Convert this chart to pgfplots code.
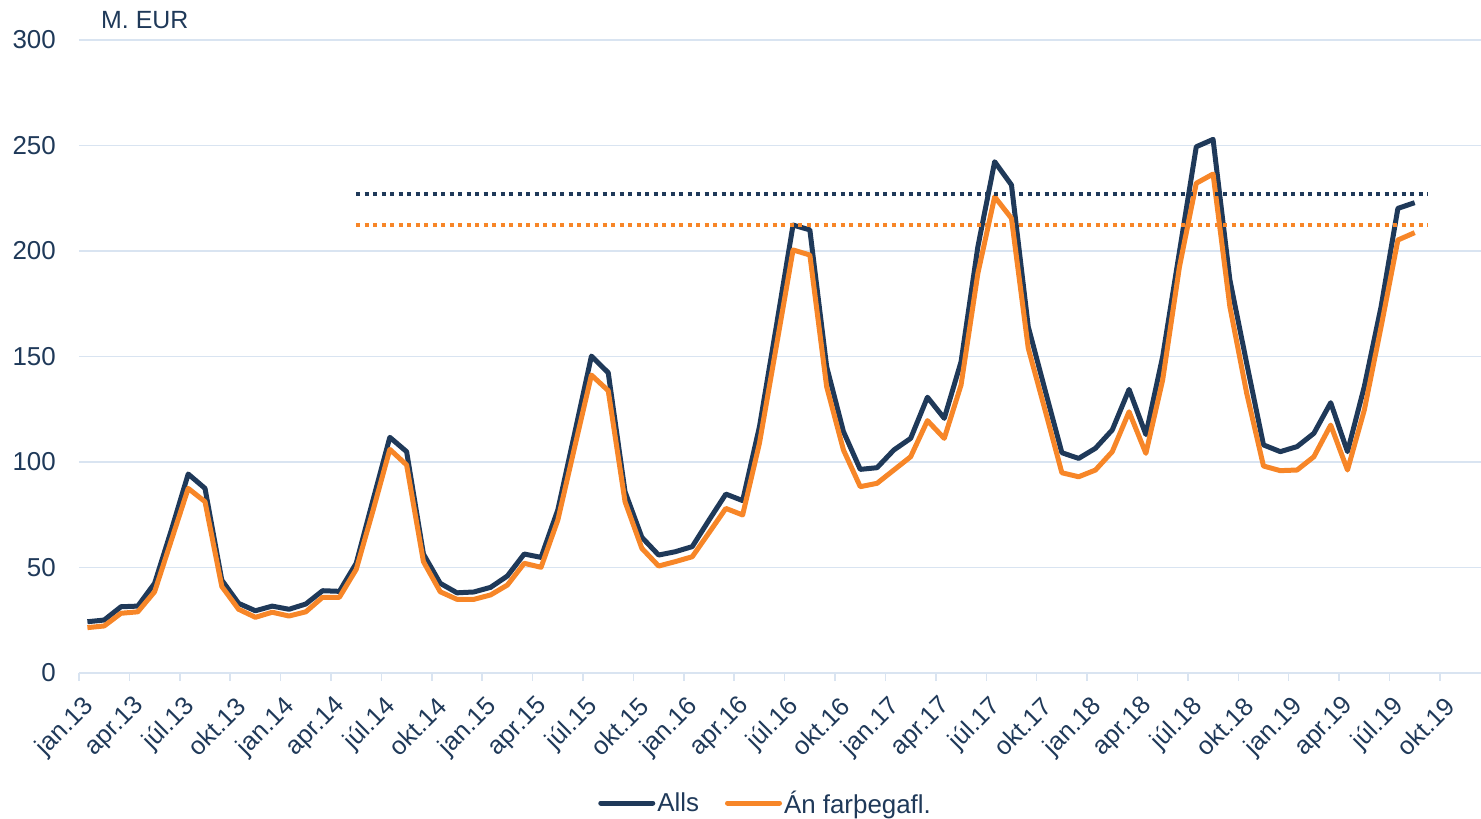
\documentclass[border=0pt]{standalone}
\usepackage{pgfplots}
\pgfplotsset{compat=1.18}
\usepackage{pgfplotstable}
\usepackage{fontspec}
\setmainfont{Liberation Sans}
\definecolor{navy}{RGB}{31,57,89}
\definecolor{org}{RGB}{247,134,40}
\definecolor{gridc}{RGB}{217,228,241}
\pgfplotstableread{
i a b
0 24.3 21.5
1 25.1 22.3
2 31.4 28.3
3 31.7 29.0
4 42.5 38.5
5 67.8 63.0
6 94.3 87.5
7 87.5 81.2
8 44.0 41.0
9 33.0 30.2
10 29.5 26.4
11 31.7 28.8
12 30.2 27.0
13 32.7 29.0
14 39.0 35.9
15 38.7 35.9
16 52.0 49.1
17 82.0 77.0
18 111.7 106.0
19 104.9 98.6
20 56.4 52.8
21 42.5 38.5
22 38.0 34.9
23 38.4 34.9
24 40.6 37.0
25 46.0 41.7
26 56.4 52.0
27 54.8 50.1
28 77.3 72.5
29 113.6 107.0
30 150.2 141.2
31 142.3 133.8
32 85.9 81.2
33 64.3 59.1
34 55.9 50.7
35 57.5 52.8
36 59.9 55.1
37 72.5 66.5
38 84.8 78.0
39 81.7 74.9
40 116.7 108.9
41 164.1 154.6
42 212.3 200.5
43 210.0 198.1
44 145.2 135.7
45 114.4 105.7
46 96.5 88.3
47 97.3 89.9
48 105.7 96.2
49 111.2 102.5
50 130.7 119.6
51 120.7 111.2
52 147.5 136.5
53 202.0 189.4
54 242.3 225.7
55 231.3 215.5
56 164.1 153.9
57 134.1 124.6
58 104.4 94.9
59 101.7 93.0
60 106.5 96.2
61 115.2 104.9
62 134.4 123.8
63 113.0 104.1
64 150.0 138.9
65 199.7 192.6
66 249.4 232.1
67 252.9 236.5
68 186.3 173.6
69 146.8 132.6
70 108.1 98.1
71 104.9 95.9
72 107.3 96.2
73 113.6 102.5
74 128.1 117.5
75 104.9 96.2
76 135.7 124.6
77 173.6 164.1
78 220.2 205.2
79 222.9 208.7
}\data
\begin{document}
\begin{tikzpicture}
\begin{axis}[
  at={(0,0)}, anchor=south west,
  scale only axis, width=1402bp, height=633bp,
  xmin=-0.5, xmax=82.95, ymin=0, ymax=300,
  xtick={-0.5,2.5,...,80.5},
  xticklabels={jan.13,apr.13,júl.13,okt.13,jan.14,apr.14,júl.14,okt.14,jan.15,apr.15,júl.15,okt.15,jan.16,apr.16,júl.16,okt.16,jan.17,apr.17,júl.17,okt.17,jan.18,apr.18,júl.18,okt.18,jan.19,apr.19,júl.19,okt.19},
  ytick={0,50,...,300},
  ymajorgrids, grid style={gridc, line width=1.5bp},
  axis x line*=bottom, axis y line*=left,
  x axis line style={gridc, line width=1.5bp, -},
  y axis line style={draw=none},
  xtick style={gridc, line width=1.5bp},
  tick align=outside, major tick length=8bp,
  ytick style={draw=none},
  yticklabel style={font=\fontsize{26}{31}\selectfont, text=navy, anchor=east, inner sep=0pt, xshift=-15bp},
  /pgf/number format/assume math mode=true,
  xticklabel style={font=\fontsize{25.5}{30}\selectfont, text=navy, inner sep=0pt, xshift=10.6bp, yshift=-21.4bp, rotate=45, anchor=east},
  legend style={at={(0.4897,-0.2054)}, anchor=center, draw=none, fill=none,
    legend columns=2, font=\fontsize{26}{30}\selectfont, text=navy,
    /tikz/every even column/.append style={column sep=24bp},
    nodes={inner sep=2bp}},
  legend image code/.code={\draw[#1, line width=5bp, line cap=round] (0bp,0bp) -- (52bp,0bp);},
]
\addplot[navy, line width=5bp, line join=round] table[x=i,y=a] {\data};
\addlegendentry{Alls}
\addplot[org, line width=5bp, line join=round] table[x=i,y=b] {\data};
\addlegendentry{Án farþegafl.}
\addplot[navy, line width=4bp, dash pattern=on 4bp off 4.5bp, forget plot] coordinates {(16,227) (79.75,227)};
\addplot[org, line width=4bp, dash pattern=on 4bp off 4.5bp, forget plot] coordinates {(16,212.5) (79.75,212.5)};
\end{axis}
\node[anchor=west, text=navy, font=\fontsize{25}{30}\selectfont, inner sep=0pt] at (22bp,653bp) {M. EUR};
\pgfresetboundingbox
\useasboundingbox (-79bp,-146bp) rectangle (1402bp,673bp);
\end{tikzpicture}
\end{document}
